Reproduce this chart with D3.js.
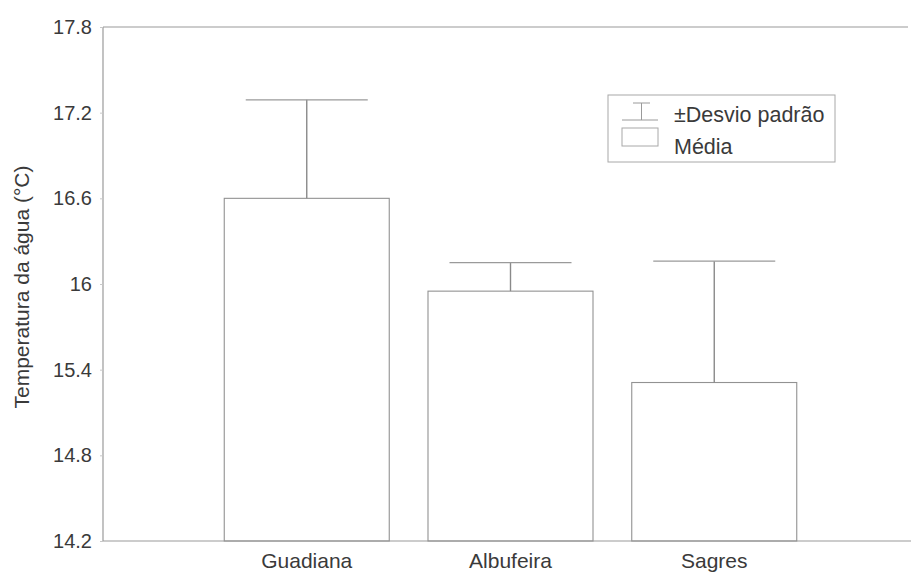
<!DOCTYPE html>
<html>
<head>
<meta charset="utf-8">
<script src="https://cdn.jsdelivr.net/npm/d3@7/dist/d3.min.js"></script>
<style>
  html, body { margin: 0; padding: 0; background: #fff; }
  svg text { font-family: "Liberation Sans", Arial, sans-serif; fill: #3a3a3a; }
</style>
</head>
<body>
<svg id="chart" width="911" height="578"></svg>
<script>
// Water temperature by site: mean and standard deviation
const categories = ["Guadiana", "Albufeira", "Sagres"];
const means = [16.60, 15.95, 15.31];
const sds = [0.69, 0.20, 0.85];
const yTicks = [14.2, 14.8, 15.4, 16.0, 16.6, 17.2, 17.8];
const yTickLabels = ["14.2", "14.8", "15.4", "16", "16.6", "17.2", "17.8"];
const legendLabels = ["\u00b1Desvio padr\u00e3o", "M\u00e9dia"];
const yTitle = "Temperatura da \u00e1gua (\u00b0C)";

(function () {
  const svg = d3.select("#chart");
  const mLeft = 103, mTop = 27, mBottom = 541, mRight = 908;
  const lineColor = "#9a9a9a";

  const y = d3.scaleLinear().domain([14.2, 17.8]).range([mBottom, mTop]);
  const x = d3.scalePoint().domain(categories).range([mLeft, 918]).padding(1);
  const barW = 165, capW = 122;

  const data = categories.map((c, i) => ({ c, m: means[i], sd: sds[i] }));

  // Frame: left, top and bottom lines
  svg.append("line").attr("x1", mLeft).attr("x2", mLeft).attr("y1", mTop).attr("y2", mBottom)
    .attr("stroke", lineColor).attr("stroke-width", 1.2);
  svg.append("line").attr("x1", mLeft).attr("x2", mRight).attr("y1", mTop).attr("y2", mTop)
    .attr("stroke", lineColor).attr("stroke-width", 1.2);
  svg.append("line").attr("x1", mLeft).attr("x2", 911).attr("y1", mBottom).attr("y2", mBottom)
    .attr("stroke", lineColor).attr("stroke-width", 1.2);

  // Y axis labels
  const yAxis = d3.axisLeft(y).tickValues(yTicks)
    .tickFormat((d, i) => yTickLabels[i]).tickSize(3).tickPadding(8);
  const gy = svg.append("g").attr("transform", `translate(${mLeft},0)`).call(yAxis);
  gy.select(".domain").remove();
  gy.selectAll(".tick line").attr("stroke", "#c8c8c8");
  gy.selectAll(".tick text").style("font-size", "20px").attr("fill", "#3a3a3a");

  // Y axis title
  svg.append("text")
    .attr("transform", `translate(29,${(mTop + mBottom) / 2 + 3}) rotate(-90)`)
    .attr("text-anchor", "middle")
    .style("font-size", "21px")
    .text(yTitle);

  // Bars (means)
  svg.selectAll("rect.bar").data(data).join("rect")
    .attr("class", "bar")
    .attr("x", d => x(d.c) - barW / 2)
    .attr("width", barW)
    .attr("y", d => y(d.m))
    .attr("height", d => y(14.2) - y(d.m))
    .attr("fill", "none")
    .attr("stroke", "#929292")
    .attr("stroke-width", 1.1);

  // Error bars (+1 SD)
  const eb = svg.selectAll("g.err").data(data).join("g").attr("class", "err");
  eb.append("line")
    .attr("x1", d => x(d.c)).attr("x2", d => x(d.c))
    .attr("y1", d => y(d.m)).attr("y2", d => y(d.m + d.sd))
    .attr("stroke", "#8a8a8a").attr("stroke-width", 1.4);
  eb.append("line")
    .attr("x1", d => x(d.c) - capW / 2).attr("x2", d => x(d.c) + capW / 2)
    .attr("y1", d => y(d.m + d.sd)).attr("y2", d => y(d.m + d.sd))
    .attr("stroke", "#9a9a9a").attr("stroke-width", 1.2);

  // Category labels
  svg.selectAll("text.cat").data(categories).join("text")
    .attr("class", "cat")
    .attr("x", d => x(d))
    .attr("y", 568)
    .attr("text-anchor", "middle")
    .style("font-size", "21px")
    .text(d => d);

  // Legend
  const lg = svg.append("g");
  lg.append("rect").attr("x", 608).attr("y", 95).attr("width", 227).attr("height", 67)
    .attr("fill", "#fff").attr("stroke", "#a8a8a8").attr("stroke-width", 1);
  lg.append("line").attr("x1", 633).attr("x2", 650).attr("y1", 103).attr("y2", 103)
    .attr("stroke", "#9a9a9a");
  lg.append("line").attr("x1", 641.5).attr("x2", 641.5).attr("y1", 103).attr("y2", 120)
    .attr("stroke", "#9a9a9a");
  lg.append("line").attr("x1", 622).attr("x2", 658).attr("y1", 120).attr("y2", 120)
    .attr("stroke", "#9a9a9a");
  lg.append("rect").attr("x", 622).attr("y", 128).attr("width", 36).attr("height", 18)
    .attr("fill", "none").attr("stroke", "#a8a8a8");
  lg.selectAll("text.leg").data(legendLabels).join("text")
    .attr("class", "leg")
    .attr("x", 674)
    .attr("y", (d, i) => 122 + i * 32)
    .style("font-size", "21.5px")
    .text(d => d);
})();
</script>
</body>
</html>
